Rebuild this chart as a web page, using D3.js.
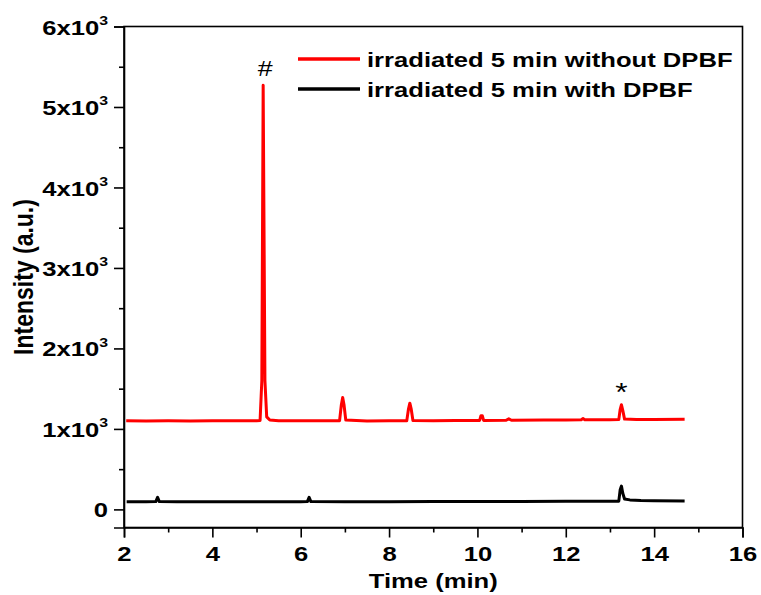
<!DOCTYPE html>
<html>
<head>
<meta charset="utf-8">
<script src="https://cdn.jsdelivr.net/npm/d3@7/dist/d3.min.js"></script>
<style>
  html, body { margin: 0; padding: 0; background: #fff; }
  svg text { font-family: "Liberation Sans", Arial, sans-serif; font-weight: bold; fill: #000; }
</style>
</head>
<body>
<svg id="chart" width="761" height="595"></svg>
<script>
// ---- data ----
const redTime = [2.05, 2.5, 3.0, 3.5, 4.0, 4.5, 5.0, 5.08, 5.12, 5.15, 5.19, 5.23, 5.3, 5.5, 6.0, 6.5,
  6.88, 6.92, 6.95, 6.98, 7.02, 7.5, 8.0, 8.4, 8.44, 8.47, 8.50, 8.54, 9.0, 9.5,
  10.05, 10.08, 10.11, 10.14, 10.65, 10.71, 10.77, 11.5, 12.0, 12.35, 12.39, 12.43, 13.0, 13.2,
  13.23, 13.26, 13.29, 13.33, 13.6, 14.0, 14.69];
const redValue = [1100, 1098, 1100, 1099, 1100, 1100, 1100, 1105, 1600, 5270, 1600, 1150, 1110, 1100, 1100, 1100,
  1102, 1300, 1390, 1300, 1110, 1098, 1100, 1100, 1250, 1320, 1250, 1105, 1102, 1103,
  1105, 1165, 1165, 1106, 1108, 1125, 1108, 1110, 1112, 1114, 1128, 1114, 1114, 1116,
  1240, 1300, 1230, 1122, 1118, 1118, 1120];

const blackTime = [2.06, 2.5, 2.72, 2.76, 2.80, 3.2, 4.0, 5.0, 6.0, 6.15, 6.19, 6.23, 7.0, 8.0, 9.0,
  10.0, 11.0, 12.0, 13.0, 13.2, 13.23, 13.26, 13.29, 13.33, 13.45, 13.7, 14.0, 14.69];
const blackValue = [95, 96, 97, 150, 97, 96, 95, 96, 96, 97, 150, 97, 95, 96, 97,
  98, 99, 100, 101, 102, 240, 290, 200, 130, 118, 110, 108, 105];

const xTicks = [2, 4, 6, 8, 10, 12, 14, 16];
const xMinorTicks = [3, 5, 7, 9, 11, 13, 15];
const yTicks = [0, 1000, 2000, 3000, 4000, 5000, 6000];
const yMinorTicks = [500, 1500, 2500, 3500, 4500, 5500];
const yTickMantissa = ["0", "1", "2", "3", "4", "5", "6"];

const seriesNames = ["irradiated 5 min without DPBF", "irradiated 5 min with DPBF"];
const seriesColors = ["#ff0000", "#000000"];
const xTitle = "Time (min)";
const yTitle = "Intensity (a.u.)";
const annotations = [{label: "#", t: 5.15, v: 5270}, {label: "*", t: 13.26, v: 1300}];

// ---- layout ----
const SX = 1.22; // horizontal stretch of lettering seen in the reference
const svg = d3.select("#chart");
const L = 124, R = 742.5, T = 26.5, B = 527.5;
const x = d3.scaleLinear().domain([2, 16]).range([L, R]);
const y = d3.scaleLinear().domain([-225, 6000]).range([B, T]);

function stretch(sel, ax, ay) {
  sel.attr("transform", `translate(${ax},${ay}) scale(${SX},1) translate(${-ax},${-ay})`);
}

// frame
svg.append("rect").attr("x", L).attr("y", T).attr("width", R - L).attr("height", B - T)
  .attr("fill", "none").attr("stroke", "#000").attr("stroke-width", 1.6);

// x axis
const xAxis = svg.append("g").attr("transform", `translate(0,${B})`)
  .call(d3.axisBottom(x).tickValues(xTicks).tickSize(10).tickPadding(6).tickFormat(d3.format("d")));
svg.append("g").attr("transform", `translate(0,${B})`)
  .call(d3.axisBottom(x).tickValues(xMinorTicks).tickSize(5).tickFormat(""))
  .call(g => g.select(".domain").remove());

// y axis
const yAxis = svg.append("g").attr("transform", `translate(${L},0)`)
  .call(d3.axisLeft(y).tickValues(yTicks).tickSize(10).tickPadding(5).tickFormat(""));
svg.append("g").attr("transform", `translate(${L},0)`)
  .call(d3.axisLeft(y).tickValues(yMinorTicks).tickSize(5).tickFormat(""))
  .call(g => g.select(".domain").remove());

svg.selectAll(".domain").attr("stroke", "#000").attr("stroke-width", 1.6);
svg.selectAll(".tick line").attr("stroke", "#000").attr("stroke-width", 1.6);

xAxis.selectAll(".tick text").attr("font-size", 21).attr("dy", "0.85em")
  .style("font-family", '"Liberation Sans", Arial, sans-serif').style("font-weight", "bold")
  .each(function() { stretch(d3.select(this), 0, 0); });

yAxis.selectAll(".tick text").each(function(d, i) {
  const t = d3.select(this).text("").attr("font-size", 21).attr("dy", "0.36em")
    .attr("x", -16)
    .style("font-family", '"Liberation Sans", Arial, sans-serif').style("font-weight", "bold");
  stretch(t, -16, 0);
  if (d === 0) { t.text("0"); return; }
  t.append("tspan").text(yTickMantissa[i] + "x10");
  t.append("tspan").text("3").attr("font-size", 13).attr("dy", "-0.75em");
});

// lines
const line = d3.line().x(d => x(d[0])).y(d => y(d[1]));
const redData = redTime.map((t, i) => [t, redValue[i]]);
const blackData = blackTime.map((t, i) => [t, blackValue[i]]);
svg.append("path").datum(blackData).attr("d", line).attr("fill", "none")
  .attr("stroke", seriesColors[1]).attr("stroke-width", 3).attr("stroke-linejoin", "round");
svg.append("path").datum(redData).attr("d", line).attr("fill", "none")
  .attr("stroke", seriesColors[0]).attr("stroke-width", 3).attr("stroke-linejoin", "round");

// annotations
const a0x = x(annotations[0].t) + 2, a0y = y(annotations[0].v) - 9;
const a0 = svg.append("text").attr("x", a0x).attr("y", a0y)
  .attr("text-anchor", "middle").attr("font-size", 22).style("font-weight", "normal").text(annotations[0].label);
stretch(a0, a0x, a0y);
const a1x = x(annotations[1].t), a1y = y(annotations[1].v) - 4;
const a1 = svg.append("text").attr("x", a1x).attr("y", a1y)
  .attr("text-anchor", "middle").attr("font-size", 26).style("font-weight", "normal").text(annotations[1].label);
stretch(a1, a1x, a1y);

// legend
const legY = [59, 89];
seriesNames.forEach((name, i) => {
  svg.append("line").attr("x1", 298).attr("x2", 360).attr("y1", legY[i]).attr("y2", legY[i])
    .attr("stroke", seriesColors[i]).attr("stroke-width", 3.5);
  const t = svg.append("text").attr("x", 367).attr("y", legY[i]).attr("dy", "0.36em")
    .attr("font-size", 21).text(name);
  stretch(t, 367, legY[i]);
});

// axis titles
const xt = svg.append("text").attr("x", (L + R) / 2).attr("y", 588).attr("text-anchor", "middle")
  .attr("font-size", 21).text(xTitle);
stretch(xt, (L + R) / 2, 588);
svg.append("text").attr("transform", `translate(33,${(T + B) / 2}) scale(${SX},1) rotate(-90)`)
  .attr("text-anchor", "middle").attr("font-size", 23).text(yTitle);
</script>
</body>
</html>
